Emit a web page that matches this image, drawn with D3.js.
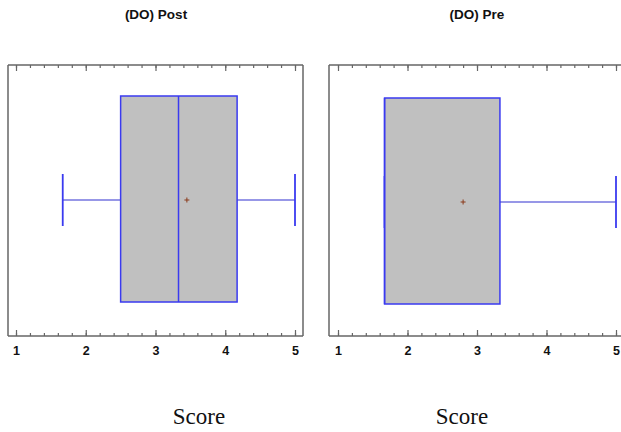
<!DOCTYPE html>
<html><head><meta charset="utf-8">
<script src="https://cdn.jsdelivr.net/npm/d3@7"></script>
<style>body{margin:0;background:#fff;} svg{display:block;}</style>
</head><body>
<script>
const panels = ["(DO) Post", "(DO) Pre"];
const mins = [1.67, 1.67];
const q1s = [2.5, 1.67];
const medians = [3.33, 1.67];
const q3s = [4.17, 3.33];
const maxs = [5, 5];
const means = [3.45, 2.8];
const tickValues = [1, 2, 3, 4, 5];
const xLabel = "Score";

const W = 621, H = 432;
const svg = d3.select("body").append("svg").attr("width", W).attr("height", H);

const layout = [
  {frameL: 8, frameR: 303, r0: 16, r1: 295, boxTop: 96, boxBot: 302, titleX: 156, scoreX: 199},
  {frameL: 329, frameR: 624, r0: 338, r1: 616, boxTop: 98, boxBot: 304, titleX: 477, scoreX: 462}
];
const frameTop = 65, frameBot = 336;
const frameColor = "#666";
const blue = "#3a3af0";

panels.forEach((name, i) => {
  const L = layout[i];
  const x = d3.scaleLinear().domain([1, 5]).range([L.r0, L.r1]);
  const g = svg.append("g");
  const minor = d3.range(1, 5.0001, 0.2).map(v => +v.toFixed(1));

  // title
  g.append("text").attr("x", L.titleX).attr("y", 19).attr("text-anchor", "middle")
    .attr("font-family", "Liberation Sans, Arial, sans-serif").attr("font-weight", "bold")
    .attr("font-size", 13.5).attr("fill", "#111").text(name);

  // frame sides
  g.append("line").attr("x1", L.frameL).attr("x2", L.frameL).attr("y1", frameTop).attr("y2", frameBot)
    .attr("stroke", frameColor).attr("stroke-width", 1.5);
  g.append("line").attr("x1", L.frameR).attr("x2", L.frameR).attr("y1", frameTop).attr("y2", frameBot)
    .attr("stroke", frameColor).attr("stroke-width", 1.5);

  // bottom axis
  const bottom = g.append("g").attr("transform", `translate(0,${frameBot})`)
    .call(d3.axisBottom(x).tickValues(minor).tickSize(-3).tickFormat(""));
  const bottomMajor = g.append("g").attr("transform", `translate(0,${frameBot})`)
    .call(d3.axisBottom(x).tickValues(tickValues).tickSize(-6).tickPadding(10).tickFormat(d3.format("d")));
  // top axis
  const top = g.append("g").attr("transform", `translate(0,${frameTop})`)
    .call(d3.axisTop(x).tickValues(minor).tickSize(-3).tickFormat(""));
  const topMajor = g.append("g").attr("transform", `translate(0,${frameTop})`)
    .call(d3.axisTop(x).tickValues(tickValues).tickSize(-6).tickFormat(""));
  [bottom, bottomMajor, top, topMajor].forEach(a => {
    a.select(".domain").remove();
    a.selectAll(".tick line").attr("stroke", frameColor).attr("stroke-width", 1.2);
  });
  bottomMajor.selectAll(".tick text").attr("font-family", "Liberation Sans, Arial, sans-serif")
    .attr("font-weight", "bold").attr("font-size", 12.5).attr("fill", "#111");
  [frameTop, frameBot].forEach(yy => {
    g.append("line").attr("x1", L.frameL).attr("x2", L.frameR).attr("y1", yy).attr("y2", yy)
      .attr("stroke", frameColor).attr("stroke-width", 1.5);
  });

  const ymid = (L.boxTop + L.boxBot) / 2 + 1;
  // whiskers
  g.append("line").attr("x1", x(mins[i])).attr("x2", x(q1s[i])).attr("y1", ymid).attr("y2", ymid)
    .attr("stroke", "#3030d0").attr("stroke-width", 1.2);
  g.append("line").attr("x1", x(q3s[i])).attr("x2", x(maxs[i])).attr("y1", ymid).attr("y2", ymid)
    .attr("stroke", "#3030d0").attr("stroke-width", 1.2);
  [mins[i], maxs[i]].forEach(v => {
    g.append("line").attr("x1", x(v)).attr("x2", x(v)).attr("y1", ymid - 26).attr("y2", ymid + 26)
      .attr("stroke", blue).attr("stroke-width", 1.8);
  });
  // box
  g.append("rect").attr("x", x(q1s[i])).attr("y", L.boxTop)
    .attr("width", x(q3s[i]) - x(q1s[i])).attr("height", L.boxBot - L.boxTop)
    .attr("fill", "#c0c0c0").attr("stroke", blue).attr("stroke-width", 1.5);
  g.append("line").attr("x1", x(medians[i])).attr("x2", x(medians[i])).attr("y1", L.boxTop).attr("y2", L.boxBot)
    .attr("stroke", blue).attr("stroke-width", 1.5);
  // mean marker
  const mx = x(means[i]);
  g.append("path").attr("d", `M${mx - 2.5},${ymid}H${mx + 2.5}M${mx},${ymid - 2.5}V${ymid + 2.5}`)
    .attr("stroke", "#8b3a1a").attr("stroke-width", 1);

  // x label
  g.append("text").attr("x", L.scoreX).attr("y", 424).attr("text-anchor", "middle")
    .attr("font-family", "Liberation Serif, Times New Roman, serif").attr("font-size", 23)
    .attr("fill", "#111").text(xLabel);
});
</script>
</body></html>
